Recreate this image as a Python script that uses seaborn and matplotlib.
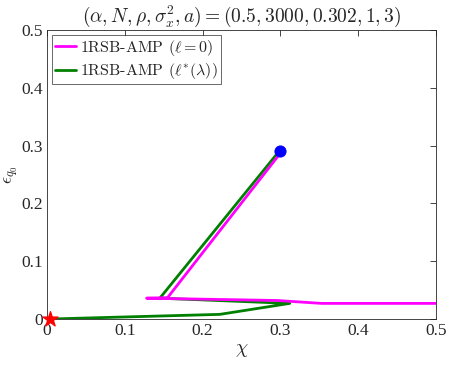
import matplotlib
matplotlib.use("Agg")
import matplotlib.pyplot as plt
import seaborn as sns
import pandas as pd
import numpy as np

# Data
chi_l0 = [0.300, 0.155, 0.128, 0.296, 0.353, 0.500]
eps_l0 = [0.287, 0.037, 0.036, 0.032, 0.027, 0.027]

chi_lstar = [0.004, 0.222, 0.312, 0.145, 0.297]
eps_lstar = [0.000, 0.008, 0.027, 0.036, 0.288]

start_chi, start_eps = [0.300], [0.290]
end_chi, end_eps = [0.004], [0.000]

labels = [r"1RSB-AMP $(\ell=0)$", r"1RSB-AMP $(\ell^{*}(\lambda))$"]
xticks = [0, 0.1, 0.2, 0.3, 0.4, 0.5]
yticks = [0, 0.1, 0.2, 0.3, 0.4, 0.5]

sns.set_style("white")
plt.rcParams["mathtext.fontset"] = "cm"
plt.rcParams["font.family"] = ["Liberation Serif", "DejaVu Serif"]

fig = plt.figure(figsize=(4.49, 3.69), dpi=100)
ax = fig.add_axes([0.1047, 0.1355, 0.8663, 0.7832])

df0 = pd.DataFrame({"chi": chi_l0, "eps": eps_l0})
df1 = pd.DataFrame({"chi": chi_lstar, "eps": eps_lstar})
sns.lineplot(data=df0, x="chi", y="eps", sort=False, estimator=None,
             color="#ff00ff", lw=2.0, ax=ax, label=labels[0], zorder=3)
sns.lineplot(data=df1, x="chi", y="eps", sort=False, estimator=None,
             color="#008000", lw=2.0, ax=ax, label=labels[1], zorder=2)
sns.scatterplot(x=start_chi, y=start_eps, color="blue", s=65, ax=ax,
                edgecolor="blue", zorder=5)
sns.scatterplot(x=end_chi, y=end_eps, color="red", marker="*", s=130, ax=ax,
                edgecolor="red", zorder=5, clip_on=False)

ax.set_xlim(0, 0.5)
ax.set_ylim(0, 0.5)
ax.set_xticks(xticks)
ax.set_yticks(yticks)
ax.set_xticklabels([f"{t:g}" for t in xticks], fontfamily="Liberation Serif")
ax.set_yticklabels([f"{t:g}" for t in yticks], fontfamily="Liberation Serif")
ax.tick_params(direction="in", top=True, right=True, length=4, width=0.6,
               labelsize=12.5, colors="#262626", pad=3)
for s in ax.spines.values():
    s.set_visible(True)
    s.set_color("#262626")
    s.set_linewidth(0.6)

ax.set_xlabel(r"$\chi$", fontsize=14, labelpad=2)
ax.set_ylabel(r"$\epsilon_{q_0}$", fontsize=12.5)
ax.yaxis.set_label_coords(-0.068, 0.5)
ax.set_title(r"$(\alpha, N, \rho, \sigma_x^2, a) = (0.5, 3000, 0.302, 1, 3)$",
             fontsize=14, pad=6)

leg = ax.legend(loc="upper left", frameon=True, fancybox=False,
                edgecolor="#262626", handlelength=1.3, handletextpad=0.25,
                borderpad=0.2, labelspacing=0.2, borderaxespad=0.3,
                prop={"family": "cmr10", "size": 11.5})
leg.get_frame().set_linewidth(0.6)

fig.savefig("out.png", dpi=100)
